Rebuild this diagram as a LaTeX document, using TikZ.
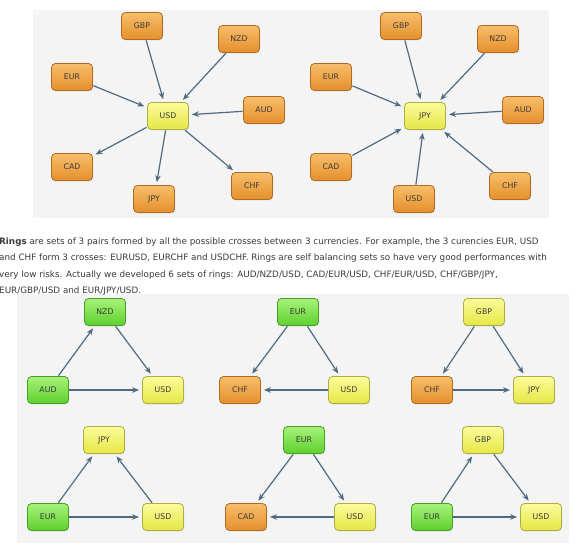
\documentclass[tikz,border=0pt]{standalone}
\usepackage{fontspec}
\setmainfont{DejaVu Sans}
\usetikzlibrary{arrows.meta,shadows}
\definecolor{arr}{HTML}{4F6B82}
\definecolor{txt}{HTML}{3A3A3A}
\definecolor{panel}{HTML}{F4F4F4}
\definecolor{orgL}{HTML}{F7BE6A}
\definecolor{orgM}{HTML}{E58F2C}
\definecolor{orgD}{HTML}{B06A22}
\definecolor{yelL}{HTML}{FBFB9C}
\definecolor{yelM}{HTML}{E6E645}
\definecolor{yelD}{HTML}{AEAE45}
\definecolor{grnL}{HTML}{A8F27A}
\definecolor{grnM}{HTML}{5ED02E}
\definecolor{grnD}{HTML}{46A024}
\tikzset{
  cur/.style={rounded corners=4pt, minimum width=41pt, minimum height=27pt, inner sep=0pt,
    font=\fontsize{7.8}{9}\selectfont, text=txt, line width=0.8pt,
    drop shadow={shadow xshift=0.6pt, shadow yshift=-0.9pt, opacity=0.25}},
  org/.style={cur, draw=orgD, top color=orgL, bottom color=orgM},
  yel/.style={cur, draw=yelD, top color=yelL, bottom color=yelM},
  grn/.style={cur, draw=grnD, top color=grnL, bottom color=grnM},
  link/.style={draw=arr, line width=1.2pt, -{Stealth[length=7pt,width=5.5pt]}, shorten >=3pt, shorten <=0.5pt},
  para/.style={anchor=base west, inner sep=0pt, text=txt, font=\fontsize{8.8}{10}\selectfont}
}
\begin{document}
\begin{tikzpicture}[x=1pt,y=-1pt]
\useasboundingbox (0,0) rectangle (580,543);
\clip (0,0) rectangle (580,543);
\fill[white] (0,0) rectangle (580,543);
\fill[panel] (33,10) rectangle (549,218);
\fill[panel] (17,294) rectangle (569,543);

% paragraph
\node[para] (l1) at (-1,244) {\textbf{Rings} are sets of 3 pairs formed by all the possible crosses between 3 currencies. For example, the 3 curencies EUR, USD};
\node[para] (l2) at (-1,260.5) {and CHF form 3 crosses: EURUSD, EURCHF and USDCHF. Rings are self balancing sets so have very good performances with};
\node[para] (l3) at (-1,277) {very low risks. Actually we developed 6 sets of rings: AUD/NZD/USD, CAD/EUR/USD, CHF/EUR/USD, CHF/GBP/JPY,};
\node[para] (l4) at (-1,293.5) {EUR/GBP/USD and EUR/JPY/USD.};

% top left star
\node[yel] (aU) at (168,116) {USD};
\node[org] (aGBP) at (142,26) {GBP};
\node[org] (aNZD) at (239,39) {NZD};
\node[org] (aEUR) at (72,77) {EUR};
\node[org] (aAUD) at (264,110) {AUD};
\node[org] (aCAD) at (72,167) {CAD};
\node[org] (aJPY) at (154,199) {JPY};
\node[org] (aCHF) at (252,186) {CHF};
\draw[link] (aGBP) -- (aU);
\draw[link] (aNZD) -- (aU);
\draw[link] (aEUR) -- (aU);
\draw[link] (aAUD) -- (aU);
\draw[link] (aU) -- (aCAD);
\draw[link] (aU) -- (aJPY);
\draw[link] (aU) -- (aCHF);

% top right star
\node[yel] (bJ) at (425,116) {JPY};
\node[org] (bGBP) at (401,26) {GBP};
\node[org] (bNZD) at (498,39) {NZD};
\node[org] (bEUR) at (331,77) {EUR};
\node[org] (bAUD) at (523,110) {AUD};
\node[org] (bCAD) at (331,167) {CAD};
\node[org] (bUSD) at (414,199) {USD};
\node[org] (bCHF) at (510,186) {CHF};
\draw[link] (bGBP) -- (bJ);
\draw[link] (bNZD) -- (bJ);
\draw[link] (bEUR) -- (bJ);
\draw[link] (bAUD) -- (bJ);
\draw[link] (bCAD) -- (bJ);
\draw[link] (bUSD) -- (bJ);
\draw[link] (bCHF) -- (bJ);

% ring 1
\node[grn] (r1t) at (105,312) {NZD};
\node[grn] (r1l) at (48,390) {AUD};
\node[yel] (r1r) at (163,390) {USD};
\draw[link] (r1l) -- (r1t);
\draw[link] (r1t) -- (r1r);
\draw[link] (r1l) -- (r1r);

% ring 2
\node[grn] (r2t) at (298,312) {EUR};
\node[org] (r2l) at (240,390) {CHF};
\node[yel] (r2r) at (349,390) {USD};
\draw[link] (r2t) -- (r2l);
\draw[link] (r2t) -- (r2r);
\draw[link] (r2r) -- (r2l);

% ring 3
\node[yel] (r3t) at (484,312) {GBP};
\node[org] (r3l) at (432,390) {CHF};
\node[yel] (r3r) at (534,390) {JPY};
\draw[link] (r3t) -- (r3l);
\draw[link] (r3t) -- (r3r);
\draw[link] (r3l) -- (r3r);

% ring 4
\node[yel] (r4t) at (104,440) {JPY};
\node[grn] (r4l) at (48,517) {EUR};
\node[yel] (r4r) at (163,517) {USD};
\draw[link] (r4l) -- (r4t);
\draw[link] (r4r) -- (r4t);
\draw[link] (r4l) -- (r4r);

% ring 5
\node[grn] (r5t) at (304,440) {EUR};
\node[org] (r5l) at (246,517) {CAD};
\node[yel] (r5r) at (355,517) {USD};
\draw[link] (r5t) -- (r5l);
\draw[link] (r5t) -- (r5r);
\draw[link] (r5r) -- (r5l);

% ring 6
\node[yel] (r6t) at (483,440) {GBP};
\node[grn] (r6l) at (432,517) {EUR};
\node[yel] (r6r) at (541,517) {USD};
\draw[link] (r6l) -- (r6t);
\draw[link] (r6t) -- (r6r);
\draw[link] (r6l) -- (r6r);
\end{tikzpicture}
\end{document}
